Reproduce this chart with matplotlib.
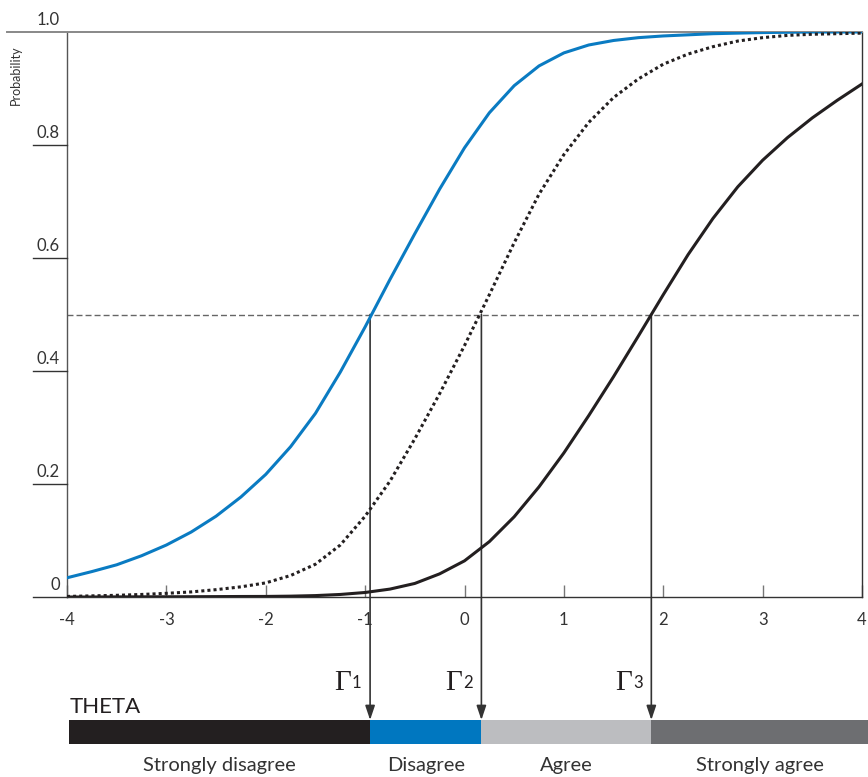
import matplotlib
matplotlib.use("Agg")
import matplotlib.pyplot as plt
from matplotlib.transforms import blended_transform_factory
from matplotlib.patches import Rectangle

plt.rcParams['font.family'] = ['Lato', 'DejaVu Sans']

# ---------------- data ----------------
theta = [-4.0, -3.75, -3.5, -3.25, -3.0, -2.75, -2.5, -2.25, -2.0, -1.75, -1.5, -1.25,
         -1.0, -0.75, -0.5, -0.25, 0.0, 0.25, 0.5, 0.75, 1.0, 1.25, 1.5, 1.75,
         2.0, 2.25, 2.5, 2.75, 3.0, 3.25, 3.5, 3.75, 4.0]

p_cat1 = [0.034, 0.045, 0.057, 0.073, 0.092, 0.115, 0.143, 0.177, 0.217, 0.266, 0.325, 0.398,
          0.478, 0.562, 0.643, 0.722, 0.795, 0.857, 0.905, 0.940, 0.963, 0.977, 0.985, 0.990,
          0.993, 0.995, 0.997, 0.998, 0.999, 0.9995, 1.000, 1.000, 1.000]

p_cat2 = [0.001, 0.002, 0.003, 0.0045, 0.0065, 0.009, 0.013, 0.018, 0.025, 0.038, 0.058, 0.092,
          0.143, 0.205, 0.280, 0.360, 0.445, 0.535, 0.627, 0.713, 0.783, 0.840, 0.884, 0.917,
          0.943, 0.961, 0.974, 0.984, 0.990, 0.994, 0.996, 0.997, 0.998]

p_cat3 = [0.000, 0.000, 0.0002, 0.0003, 0.0004, 0.0005, 0.0007, 0.0009, 0.001, 0.0015, 0.0025, 0.0045,
          0.008, 0.014, 0.024, 0.041, 0.064, 0.098, 0.142, 0.195, 0.255, 0.321, 0.390, 0.462,
          0.535, 0.606, 0.670, 0.726, 0.773, 0.813, 0.848, 0.879, 0.908]

thresholds = [-0.95, 0.17, 1.88]
threshold_labels = ['1', '2', '3']
categories = ['Strongly disagree', 'Disagree', 'Agree', 'Strongly agree']
cat_colors = ['#231f20', '#0077c0', '#bcbdc0', '#6d6e71']
theta_bar_range = [-3.98, 4.06]

x_ticks = [-4, -3, -2, -1, 0, 1, 2, 3, 4]
x_tick_labels = ['-4', '-3', '-2', '-1', '0', '1', '2', '3', '4']
y_ticks = [0.0, 0.2, 0.4, 0.6, 0.8, 1.0]
y_tick_labels = ['0', '0.2', '0.4', '0.6', '0.8', '1.0']

# ---------------- layout ----------------
W, H = 868, 777
fig = plt.figure(figsize=(W / 100, H / 100), dpi=100)


def fx(px):
    return px / W


def fy(py):
    return 1 - py / H


ax = fig.add_axes([fx(67), fy(597), fx(862) - fx(67), fy(32) - fy(597)])
ax.set_xlim(-4, 4)
ax.set_ylim(0, 1)

# curves
ax.plot(theta, p_cat1, color='#0a7bc2', lw=2.2, solid_joinstyle='round', zorder=4)
ax.plot(theta, p_cat2, color='#231f20', lw=2.2, linestyle=(0, (1, 1)),
        dash_capstyle='butt', zorder=4)
ax.plot(theta, p_cat3, color='#231f20', lw=2.2, solid_joinstyle='round', zorder=4)

# 0.5 reference line
ax.axhline(0.5, color='#666666', lw=1.0, linestyle=(0, (4.3, 2.2)), zorder=2)

# spines
for s in ['left', 'right', 'bottom']:
    ax.spines[s].set_linewidth(1.0)
ax.spines['left'].set_color('#555555')
ax.spines['right'].set_color('#333333')
ax.spines['bottom'].set_color('#333333')
ax.spines['top'].set_visible(False)

# x ticks
ax.set_xticks(x_ticks)
ax.set_xticklabels(x_tick_labels)
ax.tick_params(axis='x', direction='in', length=8.6, width=1.0, color='#777777',
               pad=11, labelsize=12, labelcolor='#333333')
ax.set_yticks([])

# y ticks drawn as underlines with labels sitting above
tr_fy = blended_transform_factory(fig.transFigure, ax.transData)
for v, lab in zip(y_ticks, y_tick_labels):
    if v == 1.0:
        ax.plot([fx(7), fx(862)], [v, v], transform=tr_fy, color='#888888', lw=1.4,
                clip_on=False, zorder=3)
    else:
        ax.plot([fx(33), fx(67)], [v, v], transform=tr_fy, color='#333333', lw=1.0,
                clip_on=False, zorder=3)
    ax.annotate(lab, xy=(fx(60), v), xycoords=tr_fy, xytext=(0, 3),
                textcoords='offset points', ha='right', va='bottom',
                fontsize=12, color='#333333')

fig.text(fx(16), fy(75), 'Probability', rotation=90, fontsize=9, ha='center',
         va='center', color='#333333')

# theta bar
tr_xf = blended_transform_factory(ax.transData, fig.transFigure)
bar_top, bar_bot = fy(720), fy(744)
edges = [theta_bar_range[0]] + thresholds + [theta_bar_range[1]]
for i, (cat, col) in enumerate(zip(categories, cat_colors)):
    x0, x1 = edges[i], edges[i + 1]
    ax.add_patch(Rectangle((x0, bar_bot), x1 - x0, bar_top - bar_bot, transform=tr_xf,
                           facecolor=col, edgecolor='none', clip_on=False))
    ax.text((x0 + x1) / 2, fy(765), cat, transform=tr_xf, ha='center', va='center',
            fontsize=14.5, color='#333333')

ax.text(theta_bar_range[0] + 0.01, fy(713), 'THETA', transform=tr_xf, ha='left',
        va='baseline', fontsize=16, color='#231f20')

# thresholds: vertical arrows and labels
for g, lab in zip(thresholds, threshold_labels):
    ax.annotate('', xy=(g, bar_top), xycoords=tr_xf, xytext=(g, 0.5), textcoords='data',
                arrowprops=dict(arrowstyle='-|>,head_length=0.86,head_width=0.29',
                                mutation_scale=10, color='#333333', lw=1.2,
                                shrinkA=0, shrinkB=0), annotation_clip=False)
    ax.annotate('\u0393', xy=(g, fy(690)), xycoords=tr_xf, xytext=(-26, 0),
                textcoords='offset points', ha='left', va='baseline',
                fontsize=21, family='Liberation Serif', color='#231f20',
                annotation_clip=False)
    ax.annotate(lab, xy=(g, fy(688)), xycoords=tr_xf, xytext=(-13, 0),
                textcoords='offset points', ha='left', va='baseline',
                fontsize=12, color='#231f20', annotation_clip=False)

fig.savefig('out.png', dpi=100)
